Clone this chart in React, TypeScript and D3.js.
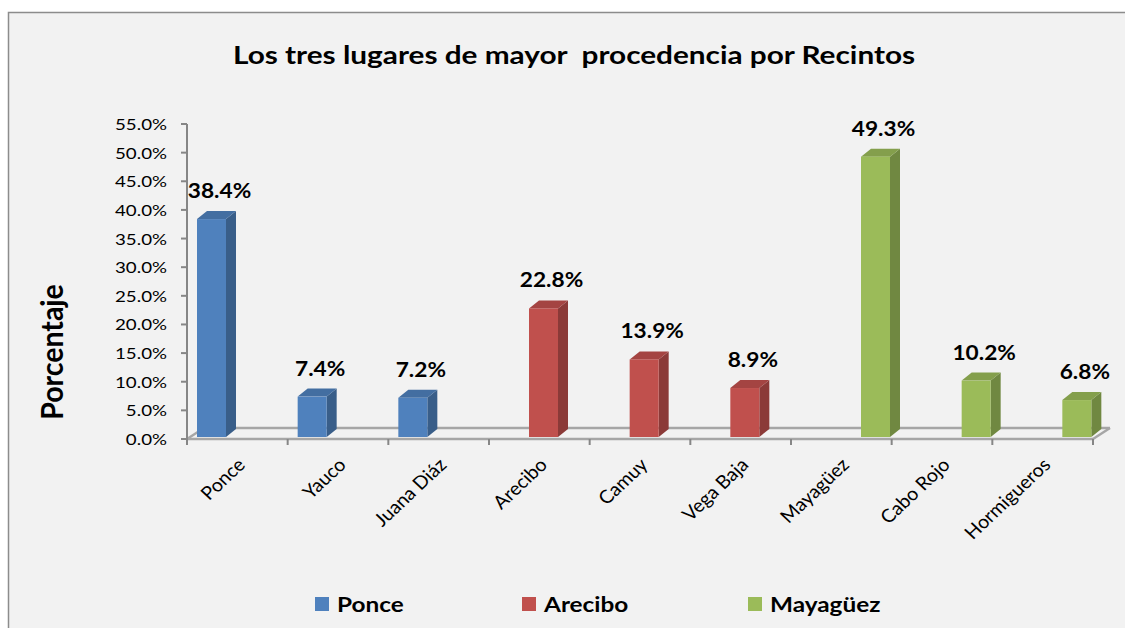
import React from 'react';
import * as d3 from 'd3';

// datos del gráfico
const categorias = ['Ponce', 'Yauco', 'Juana Diáz', 'Arecibo', 'Camuy', 'Vega Baja', 'Mayagüez', 'Cabo Rojo', 'Hormigueros'];
const series = ['Ponce', 'Arecibo', 'Mayagüez'];
const serieDeCategoria = [0, 0, 0, 1, 1, 1, 2, 2, 2];
const valores = [38.4, 7.4, 7.2, 22.8, 13.9, 8.9, 49.3, 10.2, 6.8];
const yTicks = [0, 5, 10, 15, 20, 25, 30, 35, 40, 45, 50, 55];

const colores = ['#4f81bd', '#c0504d', '#9bbb59'];
const font = 'Lato, "Open Sans", sans-serif';

// el original está algo estirado a lo ancho
const estirar = (x: number, y: number, s: number) => `translate(${x},${y}) scale(${s},1)`;

export default function App() {
  const W = 1125;
  const H = 628;

  const yScale = d3.scaleLinear().domain([0, 55]).range([439, 124]);
  const xScale = d3.scaleBand().domain(categorias).range([187, 1093]).padding(0);
  const slot = d3.scaleBand().domain(series).range([10, 100]).padding(0);

  const dx = 10;
  const dy = -8;
  const y0 = yScale(0);
  const bw = slot.bandwidth() - 1;

  return (
    <svg width={W} height={H} style={{ position: 'absolute', left: 0, top: 0 }} fontFamily={font}>
      <rect x={0} y={0} width={W} height={H} fill="#fff" />
      <rect x={8.5} y={12.5} width={W + 20} height={H + 20} fill="#f2f2f2" stroke="#8c8c8c" strokeWidth={1.5} />

      <text transform={estirar(574, 64, 1.19)} textAnchor="middle" fontSize={25} fontWeight="bold" style={{ whiteSpace: 'pre' }}>
        Los tres lugares de mayor  procedencia por Recintos
      </text>

      {/* piso 3D */}
      <g stroke="#a6a6a6" strokeWidth={2.5} fill="none">
        <line x1={187 + 17} y1={y0 - 11} x2={1093 + 17} y2={y0 - 11} />
        <line x1={1093} y1={y0} x2={1093 + 17} y2={y0 - 11} />
        <line x1={187} y1={y0} x2={187 + 17} y2={y0 - 11} />
        <line x1={187} y1={y0} x2={1093} y2={y0} />
      </g>

      {/* eje y */}
      <g stroke="#868686" strokeWidth={2}>
        <line x1={187} y1={yScale(55)} x2={187} y2={y0 + 6} />
        {yTicks.map(t => (
          <line key={t} x1={181} x2={187} y1={yScale(t)} y2={yScale(t)} />
        ))}
        {d3.range(categorias.length + 1).map(i => (
          <line key={i} x1={187 + i * xScale.bandwidth()} x2={187 + i * xScale.bandwidth()} y1={y0} y2={y0 + 6} />
        ))}
      </g>
      {yTicks.map(t => (
        <text key={t} transform={estirar(167, yScale(t) + 6, 1.17)} textAnchor="end" fontSize={16} fill="#000">
          {t.toFixed(1) + '%'}
        </text>
      ))}

      <text transform={`translate(63,352) scale(1.1,1) rotate(-90)`} textAnchor="middle" fontSize={28.5} fontWeight="bold">
        Porcentaje
      </text>

      {/* barras */}
      {categorias.map((c, i) => {
        const s = serieDeCategoria[i];
        const x = (xScale(c) as number) + (slot(series[s]) as number);
        const y = yScale(valores[i]);
        const base = d3.color(colores[s])!;
        const lado = base.darker(0.9).formatHex();
        const tapa = base.darker(0.45).formatHex();
        return (
          <g key={c}>
            <polygon points={`${x + bw},${y0 - 2} ${x + bw + dx},${y0 - 2 + dy} ${x + bw + dx},${y + dy} ${x + bw},${y}`} fill={lado} />
            <polygon points={`${x},${y} ${x + dx},${y + dy} ${x + bw + dx},${y + dy} ${x + bw},${y}`} fill={tapa} />
            <rect x={x} y={y} width={bw} height={y0 - 2 - y} fill={colores[s]} />
            <text transform={estirar(x + (bw + dx) / 2 + 3, y + dy - 13, 1.08)} textAnchor="middle" fontSize={21} fontWeight="bold">
              {valores[i].toFixed(1) + '%'}
            </text>
          </g>
        );
      })}

      {/* etiquetas x */}
      {categorias.map(c => {
        const cx = (xScale(c) as number) + xScale.bandwidth() / 2 + 9;
        return (
          <text key={c} transform={`translate(${cx},466) scale(1.06,1) rotate(-45)`} textAnchor="end" fontSize={18.5}>
            {c}
          </text>
        );
      })}

      {/* leyenda */}
      {series.map((s, i) => {
        const lx = [315, 522, 748][i];
        return (
          <g key={s}>
            <rect x={lx} y={597} width={14} height={14} fill={colores[i]} />
            <text transform={estirar(lx + 22, 612, 1.16)} fontSize={21} fontWeight="bold">{s}</text>
          </g>
        );
      })}
    </svg>
  );
}
